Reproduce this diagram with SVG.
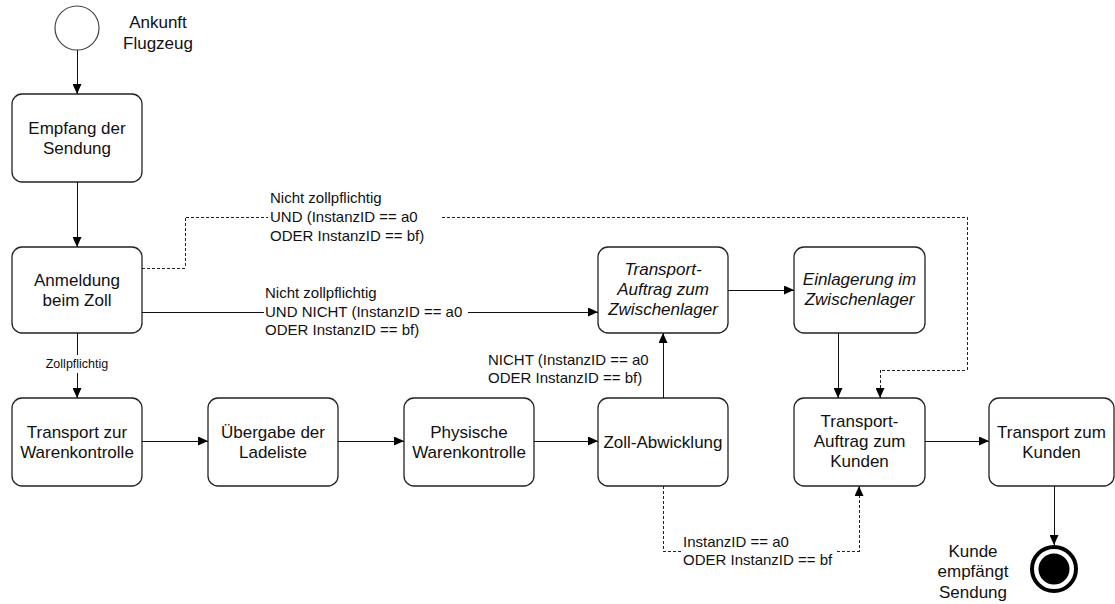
<svg xmlns="http://www.w3.org/2000/svg" width="1115" height="604" viewBox="0 0 1115 604">
<style>
.box{fill:#fff;stroke:#222;stroke-width:1.3}
.t{font-family:"Liberation Sans",Arial,sans-serif;font-size:17px;fill:#111;text-anchor:middle}
.i{font-style:italic}
.lb{font-family:"Liberation Sans",Arial,sans-serif;font-size:15px;fill:#111}
.sm{font-family:"Liberation Sans",Arial,sans-serif;font-size:12.5px;fill:#111;text-anchor:middle}
.c{fill:none;stroke:#111;stroke-width:1;shape-rendering:crispEdges}
.d{fill:none;stroke:#222;stroke-width:1;stroke-dasharray:3,2;shape-rendering:crispEdges}
</style>
<defs>
<marker id="ah" markerUnits="userSpaceOnUse" markerWidth="10" markerHeight="9" refX="10" refY="4.5" orient="auto">
<path d="M0,0 L10,4.5 L0,9 z" fill="#000" style="shape-rendering:auto"/>
</marker>
</defs>

<g id="start">
<circle cx="77" cy="28" r="22" fill="#fff" stroke="#444" stroke-width="1.2"/>
<text class="t" x="158" y="28">Ankunft</text>
<text class="t" x="158" y="49">Flugzeug</text>
</g>

<g id="empfang">
<rect class="box" x="12" y="94" width="130" height="88" rx="10"/>
<text class="t" x="77" y="134">Empfang der</text>
<text class="t" x="77" y="154">Sendung</text>
</g>

<g id="anmeldung">
<rect class="box" x="12" y="247" width="130" height="86" rx="10"/>
<text class="t" x="77" y="286">Anmeldung</text>
<text class="t" x="77" y="306">beim Zoll</text>
</g>

<g id="transport-waren">
<rect class="box" x="12" y="398" width="130" height="88" rx="10"/>
<text class="t" x="77" y="438">Transport zur</text>
<text class="t" x="77" y="458">Warenkontrolle</text>
</g>

<g id="uebergabe">
<rect class="box" x="208" y="398" width="130" height="88" rx="10"/>
<text class="t" x="273" y="438">Übergabe der</text>
<text class="t" x="273" y="458">Ladeliste</text>
</g>

<g id="physische">
<rect class="box" x="404" y="398" width="130" height="88" rx="10"/>
<text class="t" x="469" y="438">Physische</text>
<text class="t" x="469" y="458">Warenkontrolle</text>
</g>

<g id="zoll">
<rect class="box" x="598" y="398" width="130" height="88" rx="10"/>
<text class="t" x="663" y="448">Zoll-Abwicklung</text>
</g>

<g id="auftrag-zwischenlager">
<rect class="box" x="598" y="247" width="130" height="86" rx="10"/>
<text class="t i" x="663" y="275">Transport-</text>
<text class="t i" x="663" y="295">Auftrag zum</text>
<text class="t i" x="663" y="315">Zwischenlager</text>
</g>

<g id="einlagerung">
<rect class="box" x="794" y="247" width="131" height="86" rx="10"/>
<text class="t i" x="859.5" y="285">Einlagerung im</text>
<text class="t i" x="859.5" y="305">Zwischenlager</text>
</g>

<g id="auftrag-kunden">
<rect class="box" x="794" y="398" width="131" height="88" rx="10"/>
<text class="t" x="859.5" y="427">Transport-</text>
<text class="t" x="859.5" y="447">Auftrag zum</text>
<text class="t" x="859.5" y="467">Kunden</text>
</g>

<g id="transport-kunden">
<rect class="box" x="989" y="398" width="125" height="88" rx="10"/>
<text class="t" x="1051.5" y="438">Transport zum</text>
<text class="t" x="1051.5" y="458">Kunden</text>
</g>

<g id="end">
<circle cx="1054" cy="569" r="22" fill="#fff" stroke="#000" stroke-width="4"/>
<circle cx="1054" cy="569" r="15.5" fill="#000"/>
<text class="t" x="973" y="557">Kunde</text>
<text class="t" x="973" y="577">empfängt</text>
<text class="t" x="973" y="598">Sendung</text>
</g>

<g id="connectors">
<path class="c" d="M77,50 V94" marker-end="url(#ah)"/>
<path class="c" d="M77,182 V247" marker-end="url(#ah)"/>
<path class="c" d="M77,333 V355"/>
<path class="c" d="M77,373 V398" marker-end="url(#ah)"/>
<text class="sm" x="77" y="368">Zollpflichtig</text>
<path class="c" d="M142,441 H208" marker-end="url(#ah)"/>
<path class="c" d="M338,441 H404" marker-end="url(#ah)"/>
<path class="c" d="M534,441 H598" marker-end="url(#ah)"/>
<path class="c" d="M925,441 H989" marker-end="url(#ah)"/>
<path class="c" d="M1054,486 V545" marker-end="url(#ah)"/>
<path class="c" d="M663,398 V333" marker-end="url(#ah)"/>
<path class="c" d="M728,290 H794" marker-end="url(#ah)"/>
<path class="c" d="M838,333 V398" marker-end="url(#ah)"/>

<path class="c" d="M142,312 H264"/>
<path class="c" d="M468,312 H598" marker-end="url(#ah)"/>
<text class="lb" x="265" y="298">Nicht zollpflichtig</text>
<text class="lb" x="265" y="317">UND NICHT (InstanzID == a0</text>
<text class="lb" x="265" y="335">ODER InstanzID == bf)</text>

<path class="d" d="M142,268 H185 V217 H268"/>
<path class="d" d="M442,217 H967 V370 H880 V398" marker-end="url(#ah)"/>
<text class="lb" x="270" y="203">Nicht zollpflichtig</text>
<text class="lb" x="270" y="222">UND (InstanzID == a0</text>
<text class="lb" x="270" y="241">ODER InstanzID == bf)</text>

<text class="lb" x="488" y="365">NICHT (InstanzID == a0</text>
<text class="lb" x="488" y="383">ODER InstanzID == bf)</text>

<path class="d" d="M663,486 V551 H681"/>
<path class="d" d="M837,551 H859 V486" marker-end="url(#ah)"/>
<text class="lb" x="683" y="547">InstanzID == a0</text>
<text class="lb" x="683" y="565">ODER InstanzID == bf</text>
</g>
</svg>
